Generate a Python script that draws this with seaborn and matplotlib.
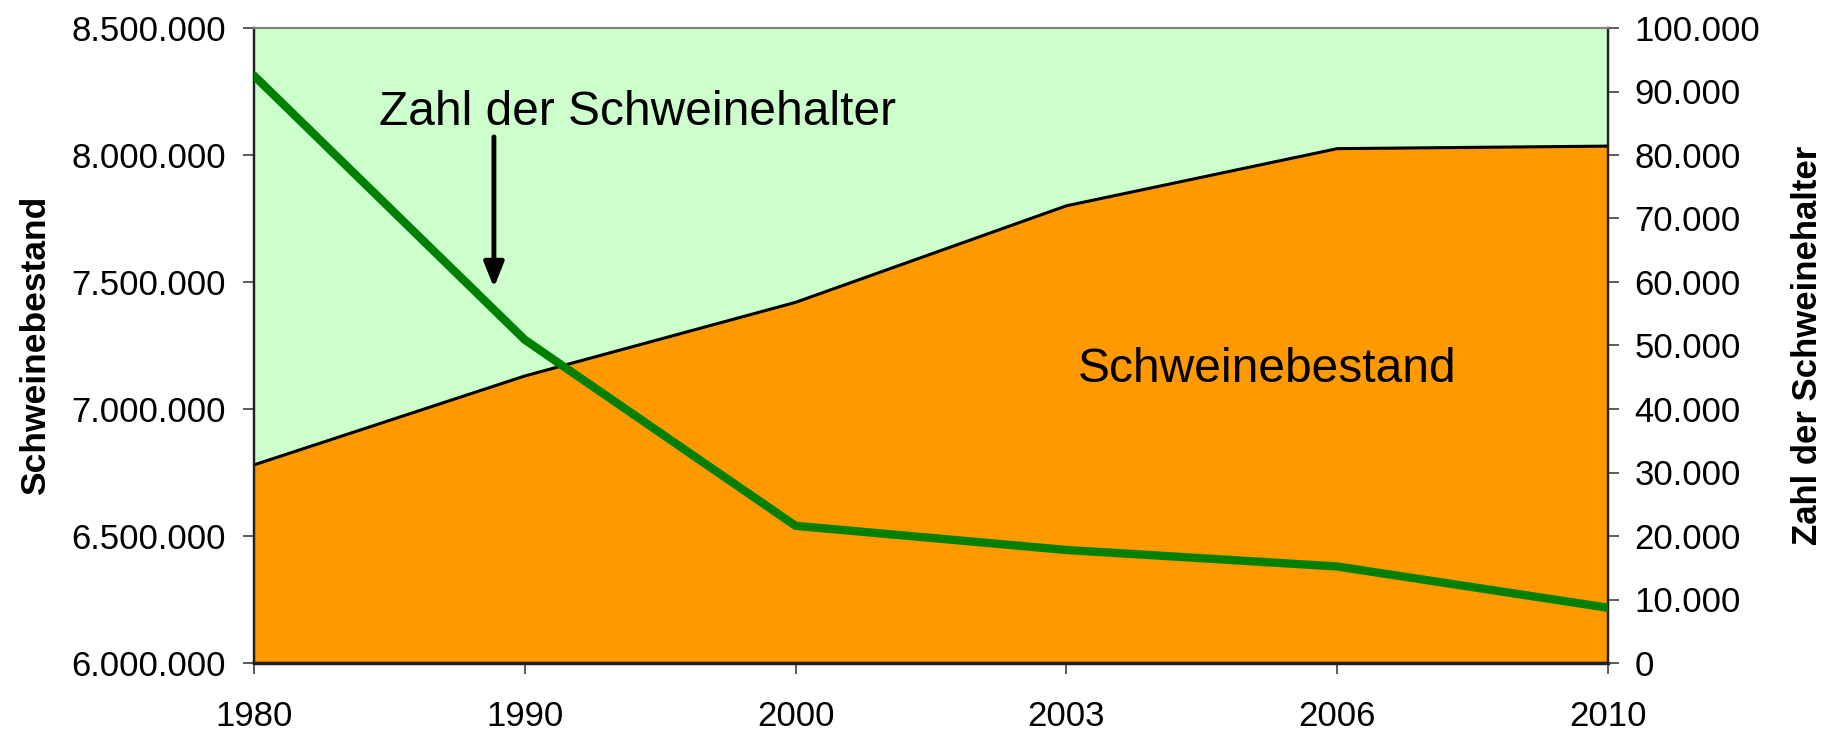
import matplotlib
matplotlib.use("Agg")
import matplotlib.pyplot as plt
import numpy as np
import seaborn as sns

# ---- data ----
years = ["1980", "1990", "2000", "2003", "2006", "2010"]
bestand = [6780000, 7130000, 7420000, 7800000, 8025000, 8035000]
halter = [92500, 50900, 21600, 17800, 15200, 8700]
left_ticks = [6000000, 6500000, 7000000, 7500000, 8000000, 8500000]
right_ticks = [0, 10000, 20000, 30000, 40000, 50000, 60000, 70000, 80000, 90000, 100000]

sns.set_theme(style="white")
plt.rcParams["font.family"] = ["Liberation Sans", "DejaVu Sans"]

def fmt(v):
    return f"{v:,.0f}".replace(",", ".")

fig = plt.figure(figsize=(18.24, 7.32), dpi=100)
ax = fig.add_axes([254 / 1824, 1 - 663 / 732, (1608 - 254) / 1824, (663 - 28) / 732])
ax.set_facecolor("#CCFFCC")

pos = np.arange(len(years))
ax.fill_between(pos, bestand, left_ticks[0], color="#FF9900", linewidth=0, zorder=2)
sns.lineplot(x=pos, y=bestand, ax=ax, color="black", linewidth=2.2, zorder=3)
ax.set_xlim(pos[0], pos[-1])
ax.set_ylim(left_ticks[0], left_ticks[-1])
ax.set_yticks(left_ticks)
ax.set_yticklabels([fmt(v) for v in left_ticks])
ax.set_xticks(pos)
ax.set_xticklabels(years)

ax2 = ax.twinx()
sns.lineplot(x=pos, y=halter, ax=ax2, color="#008000", linewidth=6, zorder=4)
ax2.set_ylim(right_ticks[0], right_ticks[-1])
ax2.set_yticks(right_ticks)
ax2.set_yticklabels([fmt(v) for v in right_ticks])
ax2.set_xlim(pos[0], pos[-1])

lab_fs = 25
ax.tick_params(axis="y", left=True, direction="out", length=8, width=1.2, color="#404040",
               labelsize=lab_fs, pad=12, labelcolor="black")
ax.tick_params(axis="x", bottom=True, direction="out", length=8, width=1.2, color="#404040",
               labelsize=lab_fs, pad=19, labelcolor="black")
ax2.tick_params(axis="y", right=True, direction="out", length=8, width=1.2, color="#404040",
                labelsize=lab_fs, pad=11, labelcolor="black")

ax.set_ylabel("Schweinebestand", fontsize=25.5, fontweight="bold", labelpad=14, color="black")
ax2.set_ylabel("Zahl der Schweinehalter", fontsize=25, fontweight="bold", labelpad=22, color="black")

for a in (ax, ax2):
    a.spines["top"].set_color("#808080")
    a.spines["top"].set_linewidth(1.5)
    for s in ("left", "right", "bottom"):
        a.spines[s].set_color("#202020")
        a.spines[s].set_linewidth(1.6)
ax.spines["bottom"].set_linewidth(2.5)
ax.spines["bottom"].set_zorder(5)

# annotations
ax.text(0.46, 8118000, "Zahl der Schweinehalter", fontsize=34.5, color="black",
        ha="left", va="baseline", zorder=6)
ax.annotate("", xy=(0.886, 7478000), xytext=(0.886, 8071000),
            arrowprops=dict(arrowstyle="-|>,head_width=0.3,head_length=0.75",
                            mutation_scale=20, color="black", lw=3.5,
                            shrinkA=0, shrinkB=0), zorder=6)
ax.text(3.043, 7107000, "Schweinebestand", fontsize=34.5, color="black",
        ha="left", va="baseline", zorder=6)

fig.savefig("out.png", dpi=100)
